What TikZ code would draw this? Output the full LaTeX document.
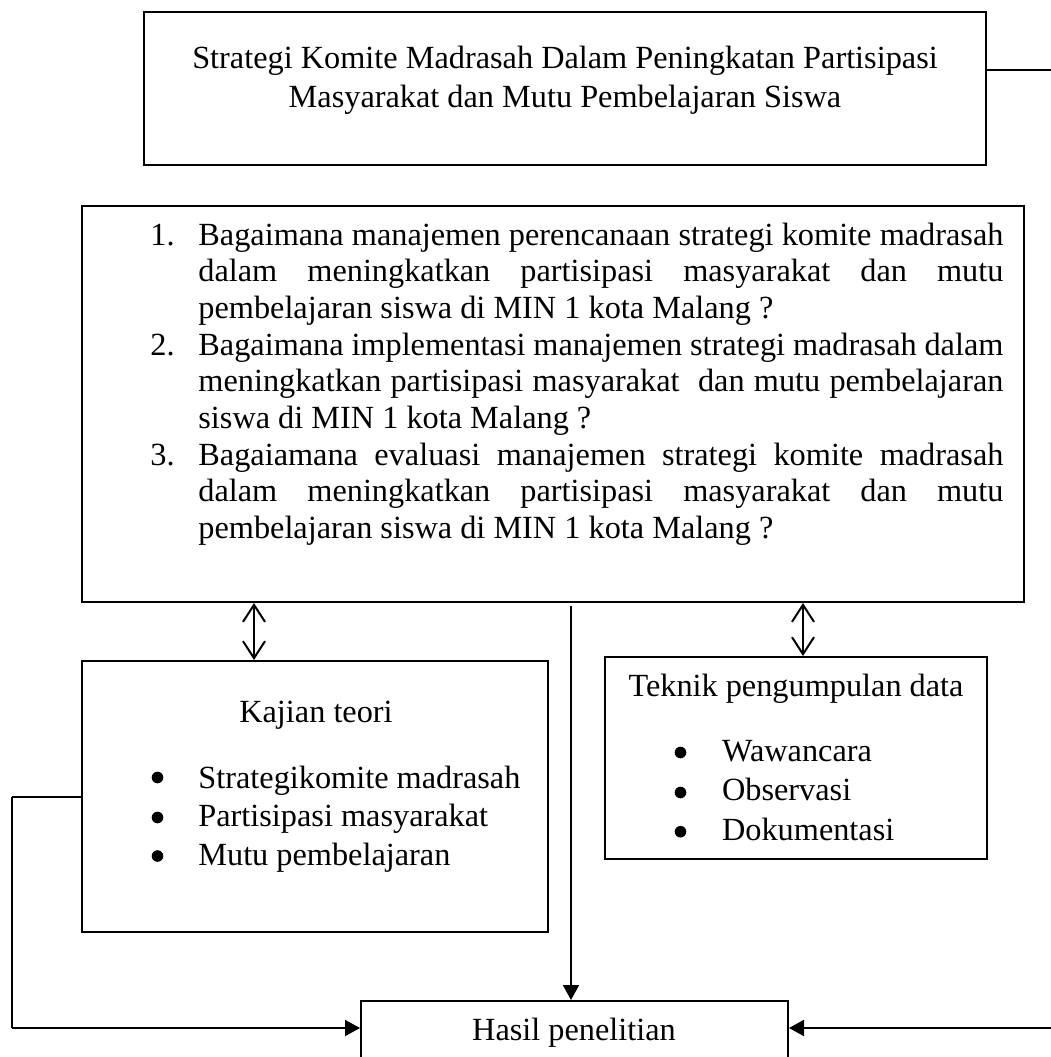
\documentclass[tikz,border=0pt]{standalone}
\usepackage{fontspec}
\setmainfont{Liberation Serif}
\usetikzlibrary{arrows.meta}
\begin{document}
\begin{tikzpicture}[x=0.5pt,y=-0.5pt,
  box/.style={draw,line width=1pt,inner sep=0pt,rectangle},
  txt/.style={inner sep=0pt,font=\fontsize{16.15pt}{18pt}\selectfont},
  dot/.style={circle,fill,inner sep=0pt,minimum size=5.8pt},
  conn/.style={line width=1pt},
  dbl/.style={line width=1pt,{Straight Barb[length=8.5pt,width=11pt]}-{Straight Barb[length=8.5pt,width=11pt]}},
  tip/.style={line width=1pt,-{Triangle[length=7.5pt,width=8pt]}}]
\useasboundingbox (0,0) rectangle (1051,1057);
\begin{scope}
\clip (0,0) rectangle (1051,1057);
% boxes
\node[box,minimum width=421pt,minimum height=76.5pt] (top) at (565,88.5) {};
\node[box,minimum width=471pt,minimum height=198pt] (big) at (553,404) {};
\node[box,minimum width=233pt,minimum height=135.5pt] (kajian) at (315,796.5) {};
\node[box,minimum width=191pt,minimum height=101pt] (teknik) at (796,758) {};
\node[box,minimum width=213.5pt,minimum height=39.5pt] (hasil) at (574.5,1040.5) {};
% top text
\node[txt,anchor=base] (t1) at (565,68) {Strategi Komite Madrasah Dalam Peningkatan Partisipasi};
\node[txt,anchor=base] (t2) at (565,107) {Masyarakat dan Mutu Pembelajaran Siswa};
% list
\node[txt,anchor=base west] (n1) at (150,245) {1.};
\node[txt,anchor=base west] (b1) at (198,245) {\makebox[402.5pt][s]{Bagaimana manajemen perencanaan strategi komite madrasah}};
\node[txt,anchor=base west] (b2) at (198,281.7) {\makebox[402.5pt][s]{dalam meningkatkan partisipasi masyarakat dan mutu}};
\node[txt,anchor=base west] (b3) at (198,318.4) {pembelajaran siswa di MIN 1 kota Malang ?};
\node[txt,anchor=base west] (n2) at (150,355) {2.};
\node[txt,anchor=base west] (b4) at (198,355) {\makebox[402.5pt][s]{Bagaimana implementasi manajemen strategi madrasah dalam}};
\node[txt,anchor=base west] (b5) at (198,391.7) {\makebox[402.5pt][s]{meningkatkan partisipasi masyarakat \ dan mutu pembelajaran}};
\node[txt,anchor=base west] (b6) at (198,428.4) {siswa di MIN 1 kota Malang ?};
\node[txt,anchor=base west] (n3) at (150,465) {3.};
\node[txt,anchor=base west] (b7) at (198,465) {\makebox[402.5pt][s]{Bagaiamana evaluasi manajemen strategi komite madrasah}};
\node[txt,anchor=base west] (b8) at (198,501.7) {\makebox[402.5pt][s]{dalam meningkatkan partisipasi masyarakat dan mutu}};
\node[txt,anchor=base west] (b9) at (198,538.4) {pembelajaran siswa di MIN 1 kota Malang ?};
% kajian
\node[txt,anchor=base] (kt) at (316,722) {Kajian teori};
\node[dot] (kd1) at (157.5,777.5) {};
\node[dot] (kd2) at (157.5,817.5) {};
\node[dot] (kd3) at (157.5,856) {};
\node[txt,anchor=base west] (k1) at (198,788.3) {Strategikomite madrasah};
\node[txt,anchor=base west] (k2) at (198,826.7) {Partisipasi masyarakat};
\node[txt,anchor=base west] (k3) at (198,865) {Mutu pembelajaran};
% teknik
\node[txt,anchor=base] (tt) at (796,696.7) {Teknik pengumpulan data};
\node[dot] (td1) at (680.5,752.5) {};
\node[dot] (td2) at (680.5,792.5) {};
\node[dot] (td3) at (680.5,831.7) {};
\node[txt,anchor=base west] (e1) at (721.7,761.7) {Wawancara};
\node[txt,anchor=base west] (e2) at (721.7,800) {Observasi};
\node[txt,anchor=base west] (e3) at (721.7,840) {Dokumentasi};
% hasil
\node[txt,anchor=base] (ht) at (574,1040) {Hasil penelitian};
% connectors
\coordinate (tr) at (1051,70);
\draw[conn] (top.east |- tr) -- (tr);
\coordinate (da) at (254,0);
\coordinate (db) at (803,0);
\draw[dbl] (big.south -| da) -- (kajian.north -| da);
\draw[dbl] (big.south -| db) -- (teknik.north -| db);
\coordinate (cs) at (571,606);
\draw[tip] (cs) -- (cs |- hasil.north);
\coordinate (lc) at (12,796.5);
\coordinate (lb) at (12,1028);
\draw[conn] (kajian.west) -- (lc);
\draw[line width=0.6pt] (lc) -- (lb);
\draw[tip] (lb) -- (hasil.west |- lb);
\coordinate (br) at (1051,1028);
\draw[tip] (br) -- (hasil.east |- br);
\end{scope}
\end{tikzpicture}
\end{document}
